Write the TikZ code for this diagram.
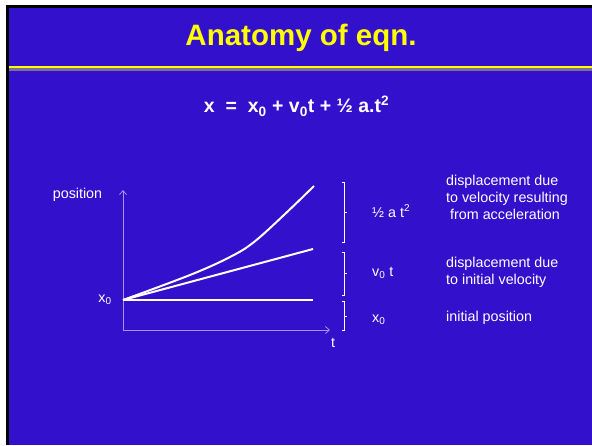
\documentclass[tikz,border=0pt]{standalone}
\usepackage{fontspec}
\setmainfont{Liberation Sans}
\usetikzlibrary{arrows.meta}
\definecolor{slideblue}{RGB}{51,16,204}
\definecolor{axiscol}{RGB}{160,150,240}
\definecolor{ruleyellow}{RGB}{255,255,0}
\definecolor{rulegray}{RGB}{128,112,150}
\tikzset{
  lbl/.style={text=white, font=\fontsize{14.3}{17}\selectfont, inner sep=0pt},
  desc/.style={lbl, anchor=west, align=left},
  curveline/.style={white, line width=2pt},
  axisline/.style={axiscol, line width=0.8pt},
  bracket/.style={white, line width=0.9pt}
}
\begin{document}
\begin{tikzpicture}[x=1pt,y=-1pt]
\useasboundingbox (0,0) rectangle (592,445);
\fill[white] (0,0) rectangle (592,445);
\fill[black] (6,5) rectangle (592,445);
\fill[slideblue] (8.5,8) rectangle (592,445);
% title rule
\fill[ruleyellow] (8.5,66) rectangle (592,68.4);
\fill[rulegray] (8.5,68.4) rectangle (592,70.8);
% title
\node[text=ruleyellow, font=\fontsize{29.5}{33}\selectfont\bfseries, inner sep=0pt] (title) at (301,38) {Anatomy of eqn.};
% equation
\node[text=white, font=\fontsize{19.5}{22}\selectfont\bfseries, inner sep=0pt] (eqn) at (296.5,106)
  {x \ =\ \ x\textsubscript{0} + v\textsubscript{0}t + ½ a.t\textsuperscript{2}};
% axes
\coordinate (origin) at (123,330);
\coordinate (ytop) at (123,190);
\coordinate (xend) at (330,330);
\draw[axisline, -{Straight Barb[length=4pt,width=7pt]}] (origin) -- (ytop);
\draw[axisline, -{Straight Barb[length=4pt,width=7pt]}] (origin) -- (xend);
\node[lbl] (position) at (77.5,195) {position};
\node[lbl] (tlabel) at (333,343) {t};
\node[lbl] (x0axis) at (105,300) {x\textsubscript{0}};
% curves
\coordinate (p0) at (123,300);
\coordinate (pflat) at (313,300);
\coordinate (plin) at (313,249);
\coordinate (pquad) at (314,186);
\draw[curveline] (p0) -- (pflat);
\draw[curveline] (p0) -- (plin);
\draw[curveline] plot[smooth, tension=0.6] coordinates {(123,300) (190,275) (230,257) (254,242) (285,214) (314,186)};
% brackets
\draw[bracket] (341.5,182) -- (344,182) -- (344,242) -- (341.5,242);
\draw[bracket] (344,212) -- (347,212);
\draw[bracket] (341.5,252) -- (344,252) -- (344,295) -- (341.5,295);
\draw[bracket] (344,273) -- (347,273);
\draw[bracket] (341.5,301) -- (344,301) -- (344,330) -- (341.5,330);
\draw[bracket] (344,316) -- (347,316);
% term labels
\node[lbl, anchor=west] (thalf) at (372,211) {½ a t\textsuperscript{2}};
\node[lbl, anchor=west] (tv) at (372,273) {v\textsubscript{0} t};
\node[lbl, anchor=west] (tx) at (372,320) {x\textsubscript{0}};
% descriptions
\node[desc] (d1) at (446,197.5) {displacement due\\to velocity resulting\\\hspace*{4pt}from acceleration};
\node[desc] (d2) at (446,272.5) {displacement due\\to initial velocity};
\node[desc] (d3) at (446,318) {initial position};
\end{tikzpicture}
\end{document}
